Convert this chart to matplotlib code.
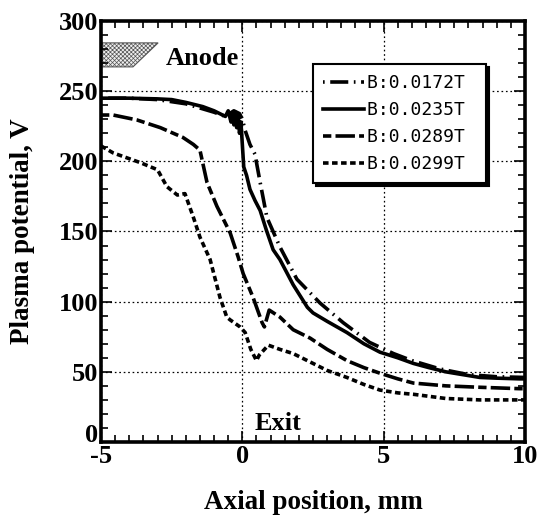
import matplotlib
matplotlib.use("Agg")
import matplotlib.pyplot as plt
from matplotlib.patches import Polygon

plt.rcParams['lines.scale_dashes'] = False
plt.rcParams['hatch.linewidth'] = 0.5
plt.rcParams['hatch.color'] = '#777777'

# ---- data ----
x_0172 = [-5, -4, -3, -2, -1.5, -1.0, -0.6, -0.3, -0.1, 0.0, 0.1, 0.27, 0.45, 0.52,
          0.63, 0.87, 1.33, 1.93, 2.75, 3.57, 4.5, 5.35, 6.0, 7.0, 8.0, 9.0, 10]
y_0172 = [245, 245, 244, 241, 238, 235, 232, 236, 234, 230, 222, 212, 205, 197,
          185, 160, 139, 116, 99, 85, 71, 63, 58, 52, 48, 46.5, 46]

x_0235 = [-5, -4, -3, -2.5, -2, -1.6, -1.4, -1.0, -0.8, -0.6, -0.5, -0.4, -0.35, -0.3,
          -0.25, -0.2, -0.15, -0.1, -0.05, 0.0, 0.05, 0.15, 0.27, 0.45, 0.63, 0.85,
          1.09, 1.33, 1.8, 2.3, 2.5, 3.0, 3.7, 4.3, 4.87, 5.5, 6.05, 6.6, 7.2, 7.8,
          8.4, 9.0, 9.8, 10]
y_0235 = [245, 245, 244.5, 244, 242, 240, 239, 236, 234, 232, 236, 228, 234, 226,
          235, 224, 233, 220, 228, 212, 196, 190, 180, 172, 165, 151,
          137, 130, 112, 96, 92, 86, 78, 70, 64, 60, 56, 53, 50, 48,
          46, 45.5, 45, 45]

x_0289 = [-5, -4.57, -3.73, -2.9, -2.1, -1.73, -1.5, -1.25, -0.9, -0.43, -0.15, 0.03,
          0.38, 0.7, 0.78, 0.95, 1.33, 1.8, 2.4, 3.0, 3.7, 4.3, 4.87, 5.5, 6.05, 7.2,
          8.4, 9.8, 10]
y_0289 = [233, 233, 229.5, 224, 217, 212, 208, 185, 168, 149, 132, 120,
          103, 85, 82, 94, 89, 80, 74, 66, 58, 53, 49, 45, 42, 40,
          39, 38, 38]

x_0299 = [-5, -4.57, -3.6, -3.0, -2.67, -2.3, -2.03, -1.73, -1.5, -1.14, -0.79, -0.55,
          -0.43, -0.08, 0.1, 0.3, 0.5, 0.6, 0.92, 1.33, 1.8, 2.4, 3.0, 3.7, 4.3, 4.87,
          5.5, 6.05, 7.2, 8.4, 9.8, 10]
y_0299 = [211, 206, 199, 194, 182, 176, 177, 160, 146, 130, 103, 89,
          87, 82, 78, 66, 58, 62, 69, 66, 63, 57, 51, 46, 41, 37,
          35, 34, 31, 30, 30, 30]

labels = ['B:0.0172T ', 'B:0.0235T ', 'B:0.0289T ', 'B:0.0299T ']
xticks = [-5, 0, 5, 10]
yticks = [0, 50, 100, 150, 200, 250, 300]

# ---- figure ----
fig = plt.figure(figsize=(5.39, 5.18), dpi=100)
ax = fig.add_axes([101/539, 1-442/518, 424/539, 421/518])

lw = 2.6
ax.plot(x_0172, y_0172, color='black', lw=lw, dashes=(1.2, 4, 13, 4), label=labels[0])
ax.plot(x_0235, y_0235, color='black', lw=lw, label=labels[1])
ax.plot(x_0289, y_0289, color='black', lw=lw, dashes=(6, 3, 14, 3), label=labels[2])
ax.plot(x_0299, y_0299, color='black', lw=lw, dashes=(4, 2.5), label=labels[3])

ax.set_xlim(-5, 10)
ax.set_ylim(0, 300)
ax.set_xticks(xticks)
ax.set_yticks(yticks)
ax.set_xticks([v / 2 for v in range(-10, 21)], minor=True)
ax.set_yticks(list(range(0, 301, 10)), minor=True)
ax.tick_params(which='both', direction='in', top=True, right=True, width=1.2)
ax.tick_params(which='major', length=8, pad=2)
ax.tick_params(which='minor', length=5)
for s in ax.spines.values():
    s.set_linewidth(2.6)

tfont = dict(family='Liberation Serif', weight='bold', size=19)
ax.set_xticklabels([str(v) for v in xticks], **tfont)
ylabs = ax.set_yticklabels([str(v) for v in yticks], **tfont)
ylabs[0].set_va('baseline')
ax.grid(True, which='major', linestyle=(0, (1.2, 2)), color='black', lw=0.9)

lfont = dict(family='Liberation Serif', weight='bold', size=19.5)
ax.set_xlabel('Axial position, mm', fontdict=lfont, labelpad=16)
ax.set_ylabel('Plasma potential, V', fontdict=lfont, labelpad=17)

# anode shape
anode = Polygon([(-5, 284.4), (-2.98, 284.4), (-3.87, 267.3), (-5, 267.3)], closed=True,
                facecolor='#eeeeee', edgecolor='#555555', hatch='xxxxxxxx', lw=0.8)
ax.add_patch(anode)
ax.text(-2.7, 268.7, 'Anode', va='baseline', ha='left', **tfont)
ax.text(0.45, 8.6, 'Exit', va='baseline', ha='left', **tfont)

leg = ax.legend(loc='upper left', bbox_to_anchor=(0.5, 0.898), borderaxespad=0,
                fancybox=False, shadow={'color': 'black', 'alpha': 1},
                prop=dict(family='DejaVu Sans Mono', size=13),
                handlelength=2.3, handletextpad=0.15, labelspacing=0.5,
                borderpad=0.55, framealpha=1, edgecolor='black')
leg.get_frame().set_linewidth(1.5)

fig.savefig('out.png', dpi=100)
